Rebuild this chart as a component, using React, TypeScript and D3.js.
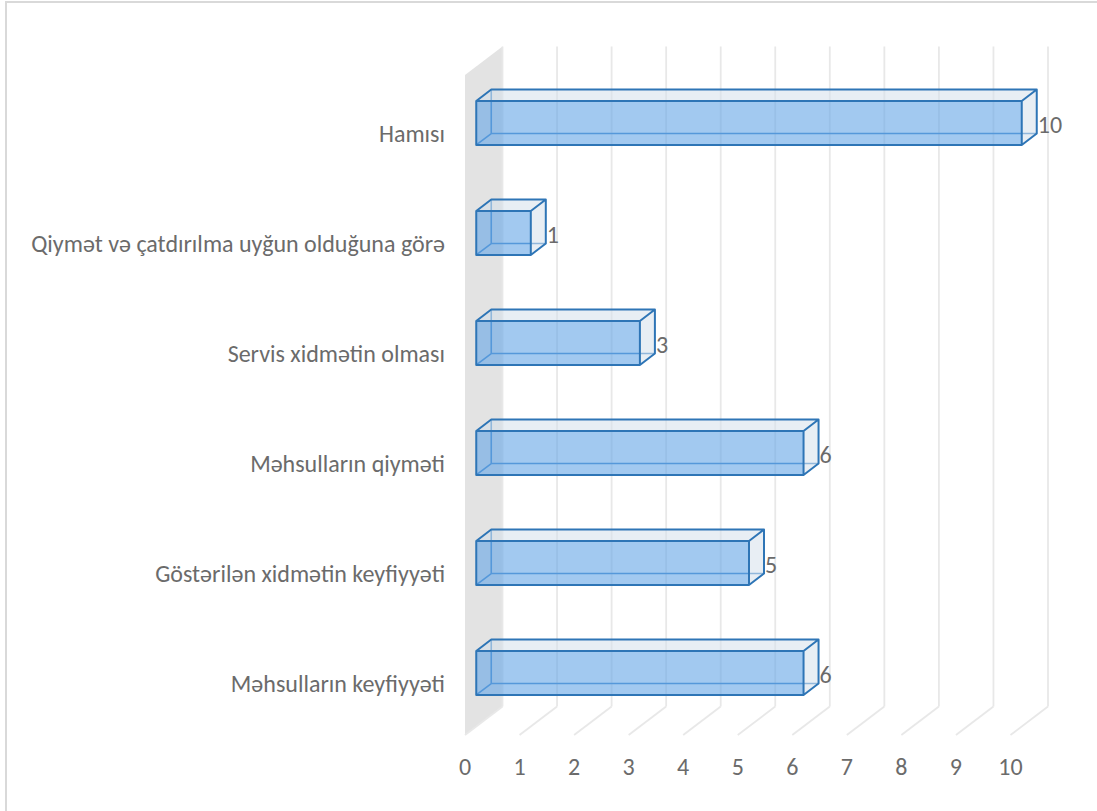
import React from "react";
import * as d3 from "d3";

// Survey answers, listed bottom to top as they appear on the category axis
const categories = [
  "Məhsulların keyfiyyəti",
  "Göstərilən xidmətin keyfiyyəti",
  "Məhsulların qiyməti",
  "Servis xidmətin olması",
  "Qiymət və çatdırılma uyğun olduğuna görə",
  "Hamısı",
];
const values = [6, 5, 6, 3, 1, 10];
const xTicks = [0, 1, 2, 3, 4, 5, 6, 7, 8, 9, 10];

const W = 1097;
const H = 811;
const FONT = "Carlito, Calibri, Lato, 'Open Sans', sans-serif";
const TEXT = "#6b6b6b";
const FS = 24;

// Oblique projection of the 3-D frame: front plane plus a depth vector
const frame = { left: 465, right: 1010.5, top: 75, bottom: 735 };
const depth = { dx: 37.5, dy: -28.5 };
const barDepth = [0.3, 0.7];

export default function App() {
  const x = d3.scaleLinear().domain([0, 10]).range([frame.left, frame.right]);
  const y = d3
    .scaleBand<string>()
    .domain([...categories].reverse())
    .range([frame.top + 1.5, frame.bottom + 1.5])
    .paddingInner(0.6)
    .paddingOuter(0.3);

  const P = (v: number, yy: number, d: number): [number, number] => [
    x(v) + d * depth.dx,
    yy + d * depth.dy,
  ];
  const pts = (arr: [number, number][]) => arr.map((p) => p.join(",")).join(" ");
  const line = d3.line();

  const x0 = x(0);
  const wall: [number, number][] = [
    [x0, frame.top],
    [x0 + depth.dx, frame.top + depth.dy],
    [x0 + depth.dx, frame.bottom + depth.dy],
    [x0, frame.bottom],
  ];

  const bw = y.bandwidth();
  const [a, b] = barDepth;

  return (
    <div style={{ position: "fixed", left: 0, top: 0 }}>
      <svg width={W} height={H} style={{ display: "block", background: "#fff" }}>
        {/* chart area border */}
        <rect x={6} y={2} width={W + 20} height={H + 20} fill="none" stroke="#d9d9d9" strokeWidth={2} />

        {/* side wall */}
        <polygon points={pts(wall)} fill="#e3e3e3" />

        {/* gridlines: back wall and floor */}
        {xTicks.map((t) => {
          const bx = x(t) + depth.dx;
          return (
            <g key={`g${t}`} stroke="#e8e8e8" strokeWidth={1.8} fill="none">
              <path d={line([[bx, frame.top + depth.dy], [bx, frame.bottom + depth.dy]]) || ""} />
              <path d={line([[bx, frame.bottom + depth.dy], [x(t), frame.bottom]]) || ""} />
            </g>
          );
        })}

        {/* bars */}
        {categories.map((c, i) => {
          const v = values[i];
          const y0 = y(c)!;
          const y1 = y0 + bw;
          const fTL = P(0, y0, a);
          const fTR = P(v, y0, a);
          const fBR = P(v, y1, a);
          const fBL = P(0, y1, a);
          const bTL = P(0, y0, b);
          const bTR = P(v, y0, b);
          const bBR = P(v, y1, b);
          const bBL = P(0, y1, b);
          return (
            <g key={c} strokeLinejoin="round">
              {/* hidden edges seen through the transparent faces */}
              <path
                d={`M${fBL}L${bBL}L${bBR}M${bTL}L${bBL}`}
                fill="none"
                stroke="#3f86c8"
                strokeWidth={1.6}
              />
              {/* top and end faces */}
              <polygon points={pts([fTL, fTR, bTR, bTL])} fill="rgba(214,224,235,0.55)" />
              <polygon points={pts([fTR, bTR, bBR, fBR])} fill="rgba(214,224,235,0.55)" />
              {/* front face */}
              <polygon points={pts([fTL, fTR, fBR, fBL])} fill="rgba(100,165,230,0.6)" />
              {/* visible outline */}
              <path
                d={`M${fTL}L${fTR}L${fBR}L${fBL}ZM${fTL}L${bTL}L${bTR}L${fTR}M${bTR}L${bBR}L${fBR}`}
                fill="none"
                stroke="#2e75b6"
                strokeWidth={2}
              />
              {/* value label */}
              <text
                x={bTR[0] + 1}
                y={(fTL[1] + fBL[1]) / 2 + 2}
                dominantBaseline="central"
                fontFamily={FONT}
                fontSize={FS}
                fill={TEXT}
              >
                {v}
              </text>
            </g>
          );
        })}

        {/* category labels */}
        {categories.map((c) => (
          <text
            key={`l${c}`}
            x={445}
            y={y(c)! + bw / 2 + 1.5}
            textAnchor="end"
            dominantBaseline="central"
            fontFamily={FONT}
            fontSize={FS}
            fill={TEXT}
          >
            {c}
          </text>
        ))}

        {/* value axis labels */}
        {xTicks.map((t) => (
          <text
            key={`t${t}`}
            x={x(t)}
            y={766}
            textAnchor="middle"
            dominantBaseline="central"
            fontFamily={FONT}
            fontSize={FS}
            fill={TEXT}
          >
            {t}
          </text>
        ))}
      </svg>
    </div>
  );
}
